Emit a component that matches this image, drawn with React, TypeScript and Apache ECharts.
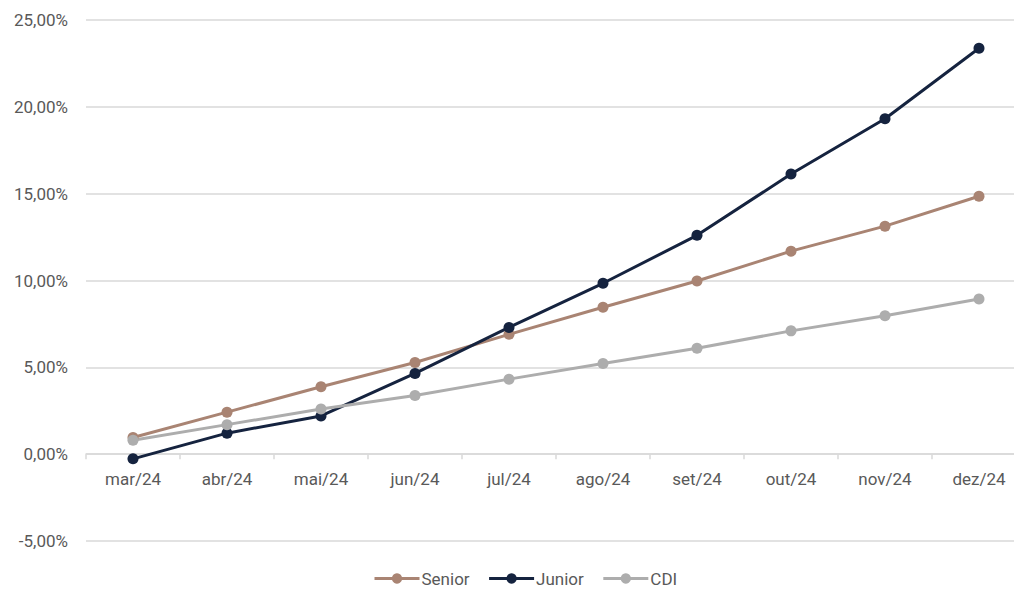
import React, { useEffect, useRef } from "react";
import * as echarts from "echarts";

const categories = ["mar/24", "abr/24", "mai/24", "jun/24", "jul/24", "ago/24", "set/24", "out/24", "nov/24", "dez/24"];
const senior = [0.96, 2.42, 3.88, 5.28, 6.9, 8.46, 9.97, 11.69, 13.13, 14.85];
const junior = [-0.27, 1.21, 2.2, 4.65, 7.3, 9.84, 12.6, 16.13, 19.31, 23.37];
const cdi = [0.8, 1.7, 2.6, 3.38, 4.32, 5.22, 6.1, 7.1, 7.97, 8.93];

const FONT = "Roboto, 'Noto Sans', sans-serif";
const TEXT = "#595959";
const FS = 17;

export default function App() {
  const ref = useRef<HTMLDivElement>(null);
  useEffect(() => {
    if (!ref.current) return;
    const chart = echarts.init(ref.current, undefined, { renderer: "svg" });
    const mk = (name: string, data: number[], color: string) => ({
      name,
      type: "line",
      data,
      symbol: "circle",
      symbolSize: 11,
      itemStyle: { color },
      lineStyle: { color, width: 3 },
    });
    const top = 20;
    const bottom = 48;
    const plotH = 589 - top - bottom;
    chart.setOption({
      animation: false,
      textStyle: { fontFamily: FONT },
      grid: { left: 86, right: 0, top, bottom, containLabel: false },
      legend: {
        left: 373,
        top: 570,
        padding: 0,
        itemWidth: 45,
        itemHeight: 13,
        itemGap: 18,
        lineStyle: { width: 3 },
        textStyle: { fontFamily: FONT, fontSize: FS, lineHeight: 16, color: TEXT, padding: [0, 0, 0, -3] },
        data: ["Senior", "Junior", "CDI"],
      },
      xAxis: {
        type: "category",
        data: categories,
        boundaryGap: true,
        position: "bottom",
        offset: -plotH / 6,
        axisLine: { onZero: false, lineStyle: { color: "#D9D9D9", width: 1.5 } },
        axisTick: { show: true, length: 5, lineStyle: { color: "#D9D9D9", width: 1.5 } },
        axisLabel: { fontFamily: FONT, fontSize: FS, color: TEXT, margin: 16 },
      },
      yAxis: {
        type: "value",
        min: -5,
        max: 25,
        interval: 5,
        axisLine: { show: false },
        axisTick: { show: false },
        splitLine: { lineStyle: { color: "#D9D9D9", width: 1.5 } },
        axisLabel: {
          fontFamily: FONT,
          fontSize: FS,
          color: TEXT,
          margin: 18,
          formatter: (v: number) => v.toFixed(2).replace(".", ",") + "%",
        },
      },
      series: [mk("Senior", senior, "#A98473"), mk("Junior", junior, "#15233F"), mk("CDI", cdi, "#ADADAD")],
    });
    return () => chart.dispose();
  }, []);
  return (
    <div style={{ position: "absolute", left: 0, top: 0, width: 1014, height: 589, overflow: "hidden" }}>
      <div ref={ref} style={{ width: 1026, height: 589 }} />
    </div>
  );
}
